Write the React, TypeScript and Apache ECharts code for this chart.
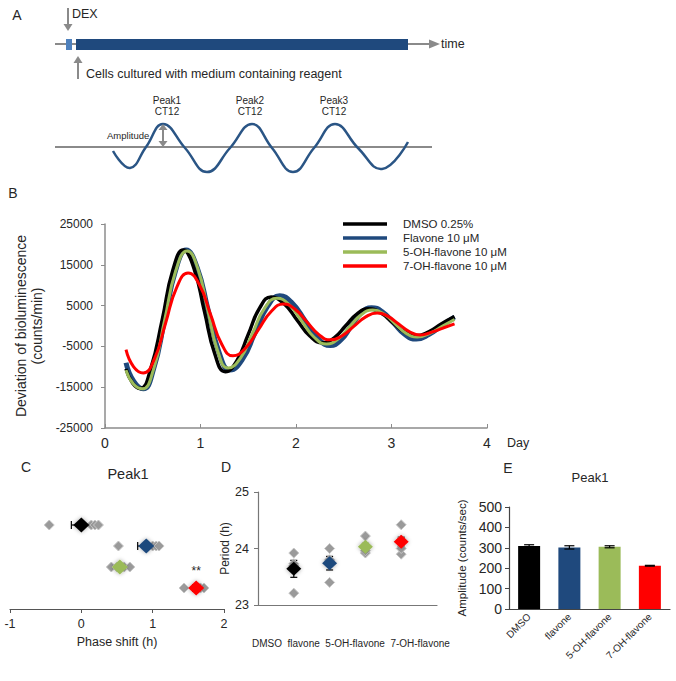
import React, { useEffect, useRef } from "react";
import * as echarts from "echarts";

const FONT = '"Liberation Sans", Arial, Helvetica, sans-serif';
const TEXT = "#262626";

// ---------- Panel B: bioluminescence traces [day, counts/min] ----------
const legendNamesB = ["DMSO 0.25%", "Flavone 10 μM", "5-OH-flavone 10 μM", "7-OH-flavone 10 μM"];
const yTicksB = [-25000, -15000, -5000, 5000, 15000, 25000];
const dmsoTrace = [
  [0.22, -10500], [0.29, -14000], [0.37, -15300], [0.48, -10350], [0.6, 1650], [0.71, 13650], [0.82, 18600],
  [0.93, 14250], [1.04, 3700], [1.15, -6850], [1.26, -11200], [1.38, -8530], [1.5, -2050], [1.62, 4430],
  [1.74, 7100], [1.875, 5460], [2.01, 1500], [2.145, -2460], [2.28, -4100], [2.4, -2890], [2.52, 50],
  [2.64, 2990], [2.76, 4200], [2.885, 3240], [3.01, 900], [3.135, -1440], [3.26, -2400], [3.39, -1400],
  [3.52, 500], [3.66, 2300],
];
const flavoneTrace = [
  [0.22, -9000], [0.3, -13500], [0.4, -15400], [0.51, -10440], [0.625, 1600], [0.74, 13640], [0.85, 18600],
  [0.965, 14300], [1.08, 3900], [1.195, -6500], [1.31, -10800], [1.44, -8140], [1.57, -1700], [1.7, 4740],
  [1.83, 7400], [1.96, 5620], [2.095, 1300], [2.23, -3020], [2.36, -4800], [2.47, -3440], [2.575, -150],
  [2.68, 3140], [2.79, 4500], [2.91, 3380], [3.025, 650], [3.14, -2080], [3.26, -3200], [3.39, -2100],
  [3.52, 0], [3.66, 2200],
];
const oh5Trace = [
  [0.22, -10800], [0.3, -14300], [0.39, -15400], [0.51, -10465], [0.625, 1500], [0.74, 13465], [0.86, 18400],
  [0.97, 14210], [1.075, 4050], [1.18, -6110], [1.29, -10300], [1.42, -7800], [1.545, -1750], [1.67, 4300],
  [1.8, 6800], [1.93, 5160], [2.06, 1200], [2.19, -2760], [2.32, -4400], [2.44, -3190], [2.56, -250],
  [2.68, 2690], [2.8, 3900], [2.92, 2940], [3.035, 600], [3.15, -1740], [3.27, -2700], [3.4, -1800],
  [3.53, -100], [3.66, 1600],
];
const oh7Trace = [
  [0.22, -5800], [0.3, -10000], [0.4, -11500], [0.52, -7920], [0.635, 750], [0.75, 9420], [0.87, 13000],
  [0.99, 10040], [1.105, 2850], [1.22, -4340], [1.34, -7300], [1.47, -5450], [1.605, -950], [1.74, 3550],
  [1.87, 5400], [1.99, 4120], [2.115, 1000], [2.24, -2120], [2.36, -3400], [2.48, -2440], [2.605, -100],
  [2.73, 2240], [2.85, 3200], [2.96, 2410], [3.075, 500], [3.19, -1410], [3.3, -2200], [3.42, -1500],
  [3.54, -500], [3.66, 500],
];

// ---------- Panels C, D, E ----------
const groups = ["DMSO", "flavone", "5-OH-flavone", "7-OH-flavone"];
// C: phase shift of peak1 (h)
const phaseMeans = [0.0, 0.91, 0.54, 1.61];
const phaseErr = [0.14, 0.12, 0.05, 0.05];
const phaseIndividuals = [
  [-0.45, 0.14, 0.19, 0.24],
  [0.52, 1.0, 1.05, 1.09],
  [0.42, 0.5, 0.6, 0.68],
  [1.44, 1.62, 1.67, 1.72],
];
const phaseMarks = ["", "", "", "**"];
// D: period (h)
const periodMeans = [23.64, 23.74, 24.03, 24.12];
const periodErr = [0.15, 0.12, 0.06, 0.08];
const periodIndividuals = [
  [23.92, 23.21, 23.7, 23.73],
  [24.0, 23.4, 23.78, 23.8],
  [24.22, 23.92, 23.96, 24.02],
  [24.42, 23.9, 24.0, 24.15],
];
// E: amplitude of peak1 (counts/sec)
const ampMeans = [309, 302, 305, 212];
const ampErr = [6, 8, 5, 2];

const groupColors = ["#000000", "#1f497d", "#9bbb59", "#ff0000"];

function txt(text: string, x: number, y: number, size: number, align = "left", extra: any = {}) {
  return {
    type: "text",
    x,
    y,
    silent: true,
    style: {
      text,
      fill: TEXT,
      fontSize: size,
      fontFamily: FONT,
      align,
      verticalAlign: "middle",
      ...extra,
    },
  };
}

const ARROW = "#8a8a8a";
function arrowLine(x1: number, y1: number, x2: number, y2: number, head: number[][]) {
  return [
    { type: "line", silent: true, shape: { x1, y1, x2, y2 }, style: { stroke: ARROW, lineWidth: 2 } },
    { type: "polygon", silent: true, shape: { points: head }, style: { fill: ARROW } },
  ];
}

function panelAGraphics() {
  const g: any[] = [];
  g.push(txt("A", 17, 15, 14, "center"));
  // DEX arrow
  g.push(...arrowLine(68, 8, 68, 25, [[63.5, 24], [72.5, 24], [68, 31]]));
  g.push(txt("DEX", 72, 14, 12.5));
  // time line
  g.push(...arrowLine(55, 44, 432, 44, [[429, 39.5], [440, 44], [429, 48.5]]));
  g.push(txt("time", 441, 44, 12.5));
  g.push({ type: "rect", silent: true, shape: { x: 66, y: 39, width: 6, height: 11 }, style: { fill: "#4f81bd" } });
  g.push({ type: "rect", silent: true, shape: { x: 76, y: 39, width: 332, height: 11 }, style: { fill: "#1f497d" } });
  // cells arrow
  g.push(...arrowLine(78, 79, 78, 62, [[73.5, 63], [82.5, 63], [78, 56]]));
  g.push(txt("Cells cultured with medium containing reagent", 86, 74, 12.5));
  // schematic wave
  g.push({ type: "line", silent: true, shape: { x1: 55, y1: 147, x2: 432, y2: 147 }, style: { stroke: "#8a8a8a", lineWidth: 2 } });
  g.push({
    type: "polyline",
    silent: true,
    shape: {
      smooth: 0.45,
      points: [
        [113, 151], [130, 168], [146, 147], [163, 124], [185, 148], [207, 172], [230, 148], [252, 124],
        [272, 148], [293, 172], [314, 148], [335, 124], [358, 148], [382, 169], [408, 142],
      ],
    },
    style: { stroke: "#2a5585", lineWidth: 2.5, fill: null },
  });
  g.push(txt("Peak1\nCT12", 167, 106, 10, "center", { lineHeight: 11 }));
  g.push(txt("Peak2\nCT12", 250, 106, 10, "center", { lineHeight: 11 }));
  g.push(txt("Peak3\nCT12", 334, 106, 10, "center", { lineHeight: 11 }));
  g.push(txt("Amplitude", 107, 135, 9.5));
  g.push({ type: "line", silent: true, shape: { x1: 163, y1: 129, x2: 163, y2: 142 }, style: { stroke: ARROW, lineWidth: 2 } });
  g.push({ type: "polygon", silent: true, shape: { points: [[158.5, 130], [167.5, 130], [163, 124]] }, style: { fill: ARROW } });
  g.push({ type: "polygon", silent: true, shape: { points: [[158.5, 141], [167.5, 141], [163, 147]] }, style: { fill: ARROW } });
  // panel letters and titles
  g.push(txt("B", 13, 193, 14, "center"));
  g.push(txt("C", 26, 467, 14, "center"));
  g.push(txt("D", 226, 467, 14, "center"));
  g.push(txt("E", 508, 468, 14, "center"));
  g.push(txt("Peak1", 128, 474, 14.5, "center"));
  g.push(txt("Peak1", 590, 477, 13, "center"));
  g.push(txt(groups.join("  "), 252, 643, 10));
  return g;
}

function errorBarsH(params: any, api: any) {
  const m = api.value(0), lvl = api.value(1), e = api.value(2);
  const p0 = api.coord([m - e, lvl]);
  const p1 = api.coord([m + e, lvl]);
  const cap = 4;
  const style = { stroke: "#000", lineWidth: 1.2 };
  return {
    type: "group",
    children: [
      { type: "line", shape: { x1: p0[0], y1: p0[1], x2: p1[0], y2: p1[1] }, style },
      { type: "line", shape: { x1: p0[0], y1: p0[1] - cap, x2: p0[0], y2: p0[1] + cap }, style },
      { type: "line", shape: { x1: p1[0], y1: p1[1] - cap, x2: p1[0], y2: p1[1] + cap }, style },
    ],
  };
}

function errorBarsV(capHalf: number) {
  return (params: any, api: any) => {
    const x = api.value(0), m = api.value(1), e = api.value(2);
    const p0 = api.coord([x, m - e]);
    const p1 = api.coord([x, m + e]);
    const style = { stroke: "#000", lineWidth: 1.2 };
    return {
      type: "group",
      children: [
        { type: "line", shape: { x1: p0[0], y1: p0[1], x2: p1[0], y2: p1[1] }, style },
        { type: "line", shape: { x1: p0[0] - capHalf, y1: p0[1], x2: p0[0] + capHalf, y2: p0[1] }, style },
        { type: "line", shape: { x1: p1[0] - capHalf, y1: p1[1], x2: p1[0] + capHalf, y2: p1[1] }, style },
      ],
    };
  };
}

const grayDiamond = {
  color: "#9a9a9a",
  borderColor: "#c8c8c8",
  borderWidth: 1,
  opacity: 1,
};
const meanShadow = { shadowBlur: 4, shadowColor: "rgba(0,0,0,0.35)", opacity: 1 };

function buildOption(): any {
  const traces = [dmsoTrace, flavoneTrace, oh5Trace, oh7Trace];
  const widths = [3.5, 5, 3, 3];
  const drawOrder = [1, 0, 2, 3];
  const lineSeries = drawOrder.map((i) => ({
    name: legendNamesB[i],
    type: "line",
    xAxisIndex: 0,
    yAxisIndex: 0,
    data: traces[i],
    smooth: 0.5,
    showSymbol: false,
    symbol: "none",
    color: groupColors[i],
    lineStyle: { width: widths[i], color: groupColors[i] },
    z: 2 + drawOrder.indexOf(i),
  }));

  const level = (i: number) => 4 - i;

  const axisFont = { fontFamily: FONT, color: TEXT };

  return {
    animation: false,
    backgroundColor: "#ffffff",
    textStyle: { fontFamily: FONT },
    legend: {
      data: legendNamesB,
      orient: "vertical",
      left: 343,
      top: 217,
      padding: 0,
      itemGap: 0,
      itemWidth: 44,
      itemHeight: 3.5,
      icon: "rect",
      textStyle: { fontSize: 11.5, lineHeight: 14, color: TEXT, fontFamily: FONT, padding: [0, 0, 0, 11] },
    },
    grid: [
      { left: 105, top: 224, width: 382, height: 204 },
      { left: 10, top: 504, width: 214, height: 105 },
      { left: 258, top: 492, width: 179, height: 113 },
      { left: 509, top: 507, width: 161, height: 102 },
    ],
    xAxis: [
      {
        gridIndex: 0, type: "value", min: 0, max: 4, interval: 1,
        axisLine: { onZero: false, lineStyle: { color: "#8c8c8c", width: 1.5 } },
        axisTick: { inside: true, length: 4, lineStyle: { color: "#8c8c8c" } },
        axisLabel: { ...axisFont, fontSize: 14, margin: 8 },
        splitLine: { show: false },
        name: "Day", nameLocation: "end", nameGap: 20,
        nameTextStyle: { ...axisFont, fontSize: 12.5, verticalAlign: "top", padding: [8, 0, 0, 0] },
      },
      {
        gridIndex: 1, type: "value", min: -1, max: 2, interval: 1,
        axisLine: { onZero: false, lineStyle: { color: "#555", width: 1.2 } },
        axisTick: { length: 4, lineStyle: { color: "#555" } },
        axisLabel: { ...axisFont, fontSize: 12.5, margin: 8 },
        splitLine: { show: false },
        name: "Phase shift (h)", nameLocation: "middle", nameGap: 26,
        nameTextStyle: { ...axisFont, fontSize: 12.5 },
      },
      {
        gridIndex: 2, type: "value", min: 0, max: 5,
        axisLine: { onZero: false, lineStyle: { color: "#777", width: 1.2 } },
        axisTick: { show: false }, axisLabel: { show: false }, splitLine: { show: false },
      },
      {
        gridIndex: 3, type: "category", data: groups,
        axisLine: { onZero: false, lineStyle: { color: "#444", width: 1.2 } },
        axisTick: { length: 4, lineStyle: { color: "#444" } },
        axisLabel: { ...axisFont, fontSize: 10, rotate: 45, margin: 6, interval: 0 },
      },
    ],
    yAxis: [
      {
        gridIndex: 0, type: "value", min: -25000, max: 25000,
        axisLine: { show: true, onZero: false, lineStyle: { color: "#8c8c8c", width: 1.5 } },
        axisTick: { show: true, length: 4, customValues: yTicksB, lineStyle: { color: "#8c8c8c" } },
        axisLabel: { ...axisFont, fontSize: 12, margin: 12, customValues: yTicksB, formatter: (v: number) => String(v) },
        splitLine: { show: false },
        name: "Deviation of bioluminescence\n(counts/min)", nameLocation: "middle", nameGap: 58,
        nameTextStyle: { ...axisFont, fontSize: 14, lineHeight: 16 },
      },
      { gridIndex: 1, type: "value", min: 0, max: 5, show: false },
      {
        gridIndex: 2, type: "value", min: 23, max: 25, interval: 1,
        axisLine: { show: true, onZero: false, lineStyle: { color: "#777", width: 1.2 } },
        axisTick: { show: true, length: 4, lineStyle: { color: "#777" } },
        axisLabel: { ...axisFont, fontSize: 12.5, margin: 9 },
        splitLine: { show: false },
        name: "Period (h)", nameLocation: "middle", nameGap: 27,
        nameTextStyle: { ...axisFont, fontSize: 12 },
      },
      {
        gridIndex: 3, type: "value", min: 0, max: 500, interval: 100,
        axisLine: { show: true, onZero: false, lineStyle: { color: "#444", width: 1.2 } },
        axisTick: { show: true, length: 4, lineStyle: { color: "#444" } },
        axisLabel: { ...axisFont, fontSize: 14, margin: 7 },
        splitLine: { show: false },
        name: "Amplitude (counts/sec)", nameLocation: "middle", nameGap: 41,
        nameTextStyle: { ...axisFont, fontSize: 11.5 },
      },
    ],
    series: [
      ...lineSeries,
      // Panel C
      {
        type: "custom", xAxisIndex: 1, yAxisIndex: 1, z: 3,
        renderItem: errorBarsH,
        encode: { x: 0, y: 1 },
        data: phaseMeans.map((m, i) => [m, level(i), phaseErr[i]]),
      },
      {
        type: "scatter", xAxisIndex: 1, yAxisIndex: 1, z: 4,
        symbol: "diamond", symbolSize: [10, 10],
        itemStyle: grayDiamond,
        data: phaseIndividuals.flatMap((vals, i) => vals.map((v) => [v, level(i)])),
      },
      {
        type: "scatter", xAxisIndex: 1, yAxisIndex: 1, z: 10,
        symbol: "diamond", symbolSize: [16, 15],
        data: phaseMeans.map((m, i) => ({
          value: [m, level(i)],
          itemStyle: { color: groupColors[i], ...meanShadow },
          label: {
            show: phaseMarks[i] !== "",
            formatter: phaseMarks[i],
            position: "top",
            distance: 4,
            fontSize: 12,
            color: TEXT,
            fontFamily: FONT,
          },
        })),
      },
      // Panel D
      {
        type: "custom", xAxisIndex: 2, yAxisIndex: 2, z: 3,
        renderItem: errorBarsV(3.5),
        encode: { x: 0, y: 1 },
        data: periodMeans.map((m, i) => [i + 1, m, periodErr[i]]),
      },
      {
        type: "scatter", xAxisIndex: 2, yAxisIndex: 2, z: 4,
        symbol: "diamond", symbolSize: [10, 10],
        itemStyle: grayDiamond,
        data: periodIndividuals.flatMap((vals, i) => vals.map((v) => [i + 1, v])),
      },
      {
        type: "scatter", xAxisIndex: 2, yAxisIndex: 2, z: 10,
        symbol: "diamond", symbolSize: [15, 14],
        data: periodMeans.map((m, i) => ({
          value: [i + 1, m],
          itemStyle: { color: groupColors[i], ...meanShadow },
        })),
      },
      // Panel E
      {
        type: "bar", xAxisIndex: 3, yAxisIndex: 3, z: 3,
        barWidth: 22,
        data: ampMeans.map((v, i) => ({ value: v, itemStyle: { color: groupColors[i] } })),
      },
      {
        type: "custom", xAxisIndex: 3, yAxisIndex: 3, z: 4,
        renderItem: errorBarsV(5),
        encode: { x: 0, y: 1 },
        data: ampMeans.map((v, i) => [i, v, ampErr[i]]),
      },
    ],
    graphic: panelAGraphics(),
  };
}

export default function App() {
  const ref = useRef<HTMLDivElement>(null);
  useEffect(() => {
    if (!ref.current) return;
    const chart = echarts.init(ref.current, undefined, { renderer: "svg" });
    chart.setOption(buildOption());
    return () => chart.dispose();
  }, []);
  return (
    <div
      ref={ref}
      style={{ position: "fixed", left: 0, top: 0, width: 676, height: 681, background: "#fff" }}
    />
  );
}
